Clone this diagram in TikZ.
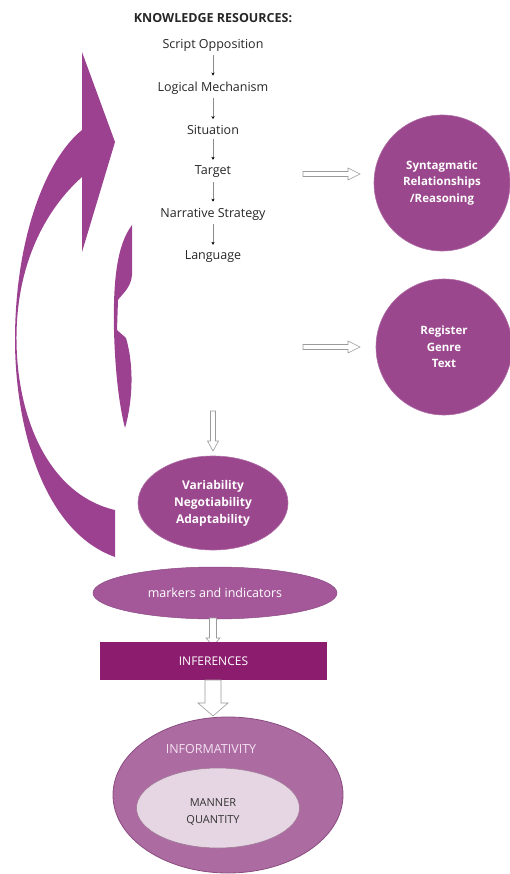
\documentclass[tikz,border=0pt]{standalone}
\usepackage{fontspec}
\setmainfont{Open Sans}
\usetikzlibrary{shapes.geometric,arrows.meta,calc}
\definecolor{arcpurple}{HTML}{9C4190}
\definecolor{circpurple}{HTML}{9A478D}
\definecolor{markpurple}{HTML}{A4589A}
\definecolor{infpurple}{HTML}{8C1C6E}
\definecolor{outerfill}{HTML}{AC6CA2}
\definecolor{outerline}{HTML}{8A4C80}
\definecolor{innerfill}{HTML}{E6D6E3}
\definecolor{innerline}{HTML}{A07A98}
\definecolor{infotext}{HTML}{F4E0F1}
\definecolor{hollowline}{HTML}{9A9A9A}
\newcommand{\hollowH}[5]{%
  \draw[hollow] let \p1=(#1), \p2=(#2) in
    (\x1,\y1-#3) -- (\x2-#5,\y1-#3) -- (\x2-#5,\y1-#4) -- (\x2,\y1)
    -- (\x2-#5,\y1+#4) -- (\x2-#5,\y1+#3) -- (\x1,\y1+#3) -- cycle;}
\newcommand{\hollowV}[5]{%
  \draw[hollow] let \p1=(#1), \p2=(#2) in
    (\x1-#3,\y1) -- (\x1-#3,\y2+#5) -- (\x1-#4,\y2+#5) -- (\x1,\y2)
    -- (\x1+#4,\y2+#5) -- (\x1+#3,\y2+#5) -- (\x1+#3,\y1) -- cycle;}
\tikzset{
  listitem/.style={font=\fontsize{12.5}{14}\selectfont, text=black!85, inner sep=2pt},
  smallarrow/.style={draw=black!45, line width=0.5pt, -{Stealth[black,length=3pt,width=3.2pt]}, shorten >=4pt, shorten <=2pt},
  hollow/.style={draw=hollowline, fill=white, line width=0.6pt},
  bigcircle/.style={circle, fill=circpurple, draw=circpurple!80!white, line width=0.6pt, text=white, align=center, minimum size=136pt, font=\fontsize{11.5}{16.5}\selectfont\bfseries},
  ovalnode/.style={ellipse, fill=circpurple, draw=circpurple!80!white, line width=0.6pt, text=white, align=center, inner sep=0pt},
}
\begin{document}
\begin{tikzpicture}[x=1pt,y=-1pt]
\useasboundingbox (0,0) rectangle (510,874);

% left curved arrow
\fill[arcpurple] (115,510) -- (115,557)
  .. controls (40,530) and (15,420) .. (15,340)
  .. controls (15,240) and (45,160) .. (82,130)
  -- (82,52) -- (115,142) -- (82,252) -- (82,177)
  .. controls (45,210) and (16,265) .. (16.5,340)
  .. controls (17,420) and (50,495) .. (115,510) -- cycle;
% small crescent
\fill[arcpurple] (132,225) -- (132,275)
  .. controls (131,288) and (122,294) .. (118,300) -- (117,330) -- (126,338)
  .. controls (134,365) and (133,400) .. (125,428)
  .. controls (119,405) and (115,370) .. (114,330)
  .. controls (113,280) and (117,245) .. (132,225) -- cycle;

% knowledge resources list
\node[font=\fontsize{12.5}{14}\selectfont\bfseries, text=black!85] (title) at (213,18) {KNOWLEDGE RESOURCES:};
\node[listitem] (so) at (213,45) {Script Opposition};
\node[listitem] (lm) at (213,88) {Logical Mechanism};
\node[listitem] (sit) at (213,130) {Situation};
\node[listitem] (tgt) at (213,172) {Target};
\node[listitem] (ns) at (213,214) {Narrative Strategy};
\node[listitem] (lang) at (213,257) {Language};
\draw[smallarrow] (so) -- (lm);
\draw[smallarrow] (lm) -- (sit);
\draw[smallarrow] (sit) -- (tgt);
\draw[smallarrow] (tgt) -- (ns);
\draw[smallarrow] (ns) -- (lang);

% circles on the right
\node[bigcircle] (syn) at (442,183) {Syntagmatic\\Relationships\\/Reasoning};
\node[bigcircle] (reg) at (444,347) {Register\\Genre\\Text};

% hollow arrows to the right
\coordinate (h1s) at (303,174);
\coordinate (h1e) at (360,174);
\coordinate (h2s) at (303,347);
\coordinate (h2e) at (360,347);
\hollowH{h1s}{h1e}{2.5pt}{6pt}{12pt}
\hollowH{h2s}{h2e}{2.5pt}{6pt}{12pt}

% down arrow to variability
\coordinate (v1s) at (213,411);
\coordinate (v1e) at (213,451);
\hollowV{v1s}{v1e}{2.5pt}{5.5pt}{10pt}

\node[ovalnode, minimum width=150pt, minimum height=94pt, font=\fontsize{12}{17}\selectfont\bfseries] (var) at (213,503) {Variability\\Negotiability\\Adaptability};

% markers and indicators
\node[ellipse, fill=markpurple, draw=markpurple!85!black, line width=0.5pt, minimum width=244pt, minimum height=52pt, text=white, font=\fontsize{12.5}{14}\selectfont] (mark) at (215,593) {markers and indicators};

% arrow markers -> inferences
\coordinate (v2s) at (213,618);
\coordinate (v2e) at (213,646);
\hollowV{v2s}{v2e}{3.5pt}{7pt}{8pt}

% inferences
\node[rectangle, fill=infpurple, minimum width=227pt, minimum height=38pt, text=white, font=\fontsize{12}{14}\selectfont] (inf) at (213.5,661) {INFERENCES};

% big arrow inferences -> informativity
\coordinate (v3s) at (213,680);
\coordinate (v3e) at (213,716);
\hollowV{v3s}{v3e}{8pt}{15pt}{13pt}

% informativity
\node[ellipse, fill=outerfill, draw=outerline, line width=0.8pt, minimum width=230pt, minimum height=156pt] (outer) at (228,795) {};
\node[text=infotext, font=\fontsize{12.5}{14}\selectfont] (info) at (211,749) {INFORMATIVITY};
\node[ellipse, fill=innerfill, draw=innerline, line width=0.6pt, minimum width=163pt, minimum height=80pt] (inner) at (218,808) {};
\node[text=black!80, align=center, font=\fontsize{11}{17}\selectfont] (mq) at (213,812) {MANNER\\QUANTITY};
\end{tikzpicture}
\end{document}
